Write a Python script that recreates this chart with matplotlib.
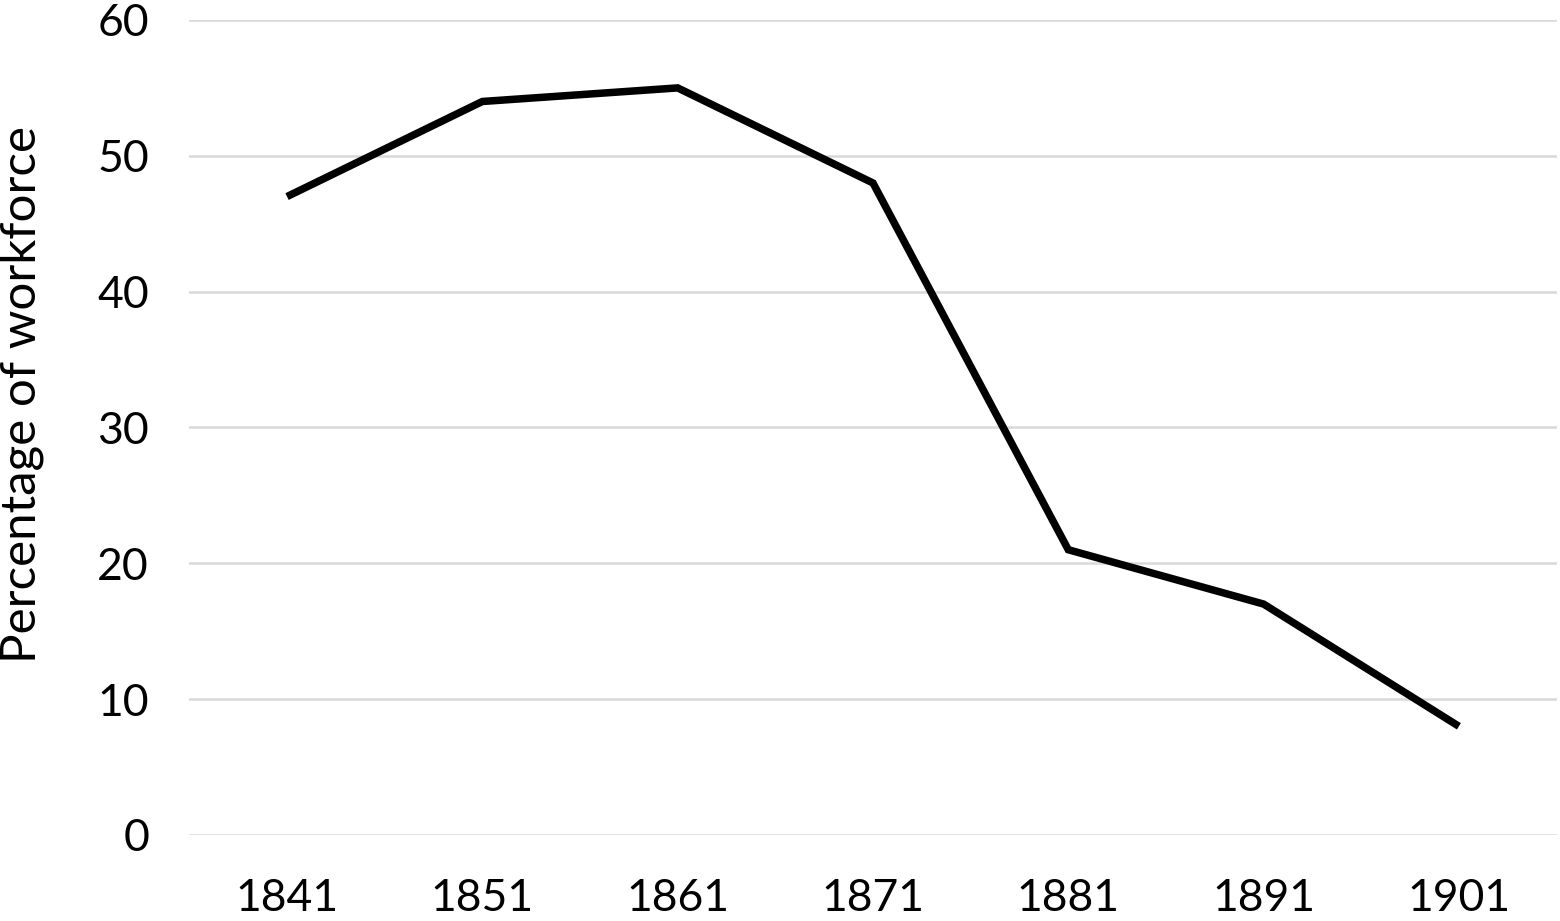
import matplotlib.pyplot as plt

plt.rcParams['font.family'] = ['Lato', 'DejaVu Sans']

years = ["1841", "1851", "1861", "1871", "1881", "1891", "1901"]
share = [47, 54, 55, 48, 21, 17, 8]

fig = plt.figure(figsize=(15.6, 9.21), dpi=100)
ax = fig.add_axes([0.1214, 0.0934, 0.8764, 0.8849])

x = range(len(years))
ax.plot(x, share, color="black", linewidth=5.4, solid_joinstyle="miter", solid_capstyle="butt")

ax.set_xlim(-0.5, len(years) - 0.5)
ax.set_ylim(0, 60)
ax.set_yticks(range(0, 61, 10))
ax.set_xticks(list(x))
ax.set_xticklabels(years)
ax.tick_params(axis="both", length=0, labelsize=32, colors="black")
ax.tick_params(axis="y", pad=29)
ax.tick_params(axis="x", pad=31)

ax.grid(axis="y", color="#d9d9d9", linewidth=1.8)
ax.set_axisbelow(True)
for s in ax.spines.values():
    s.set_visible(False)

ax.set_ylabel("Percentage of workforce", fontsize=35.5)
ax.yaxis.set_label_coords(-0.106, 0.54)

fig.savefig("out.png", dpi=100)
